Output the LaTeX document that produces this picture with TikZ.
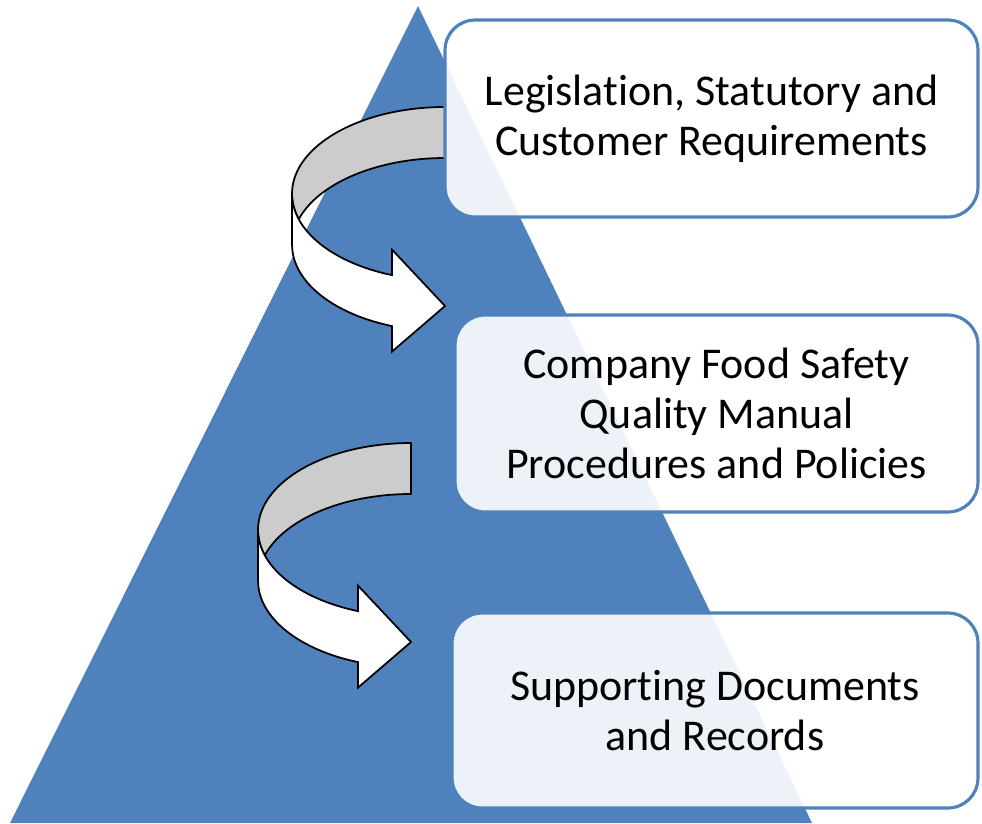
\documentclass[tikz,border=0pt]{standalone}
\usepackage{fontspec}
\setmainfont{Carlito}[Ligatures=NoCommon]
\usetikzlibrary{positioning}
\definecolor{pyramidblue}{HTML}{4F81BD}
\tikzstyle{tier} = [
  rectangle,
  rounded corners=0.6cm,
  minimum height=3.94cm,
  text centered,
  align=center,
  draw=pyramidblue,
  line width=1.8pt,
  fill=white,
  fill opacity=0.9,
  text opacity=1,
  inner sep=0,
  font=\fontsize{25}{28.5}\selectfont
]
\tikzstyle{backband} = [
  draw=black,
  line width=1pt,
  line join=round,
  fill=gray!40
]
\tikzstyle{frontband} = [
  draw=black,
  line width=1pt,
  line join=miter,
  fill=white
]
% u-turn arrow, #1 is its top left corner
\newcommand{\turnarrow}[1]{
  \begin{scope}[shift={(#1)}]
    \draw [backband] (0,86.75) arc[start angle=180, end angle=270, x radius=153, y radius=86.75]
      -- (153,51) arc[start angle=270, end angle=197.1, x radius=153, y radius=86.75]
      arc[start angle=162.9, end angle=180, x radius=153, y radius=86.75] -- cycle;
    \draw [frontband] (0,86.75) arc[start angle=180, end angle=110.3, x radius=153, y radius=86.75]
      -- (100,142.6) -- (153,199) -- (100,244.6) -- (100,219.1)
      arc[start angle=110.3, end angle=180, x radius=153, y radius=86.75] -- cycle;
  \end{scope}
}

\begin{document}
\begin{tikzpicture}[x=0.02cm, y=-0.02cm]
      \useasboundingbox (0,0) rectangle (982,823);

      \fill [pyramidblue] (418,6) -- (812,823) -- (10,823) -- cycle;

      \coordinate (turn one) at (292,107);
      \coordinate (turn two) at (258,443);
      \turnarrow{turn one}
      \turnarrow{turn two}

      \node [tier, minimum width=10.66cm] (requirements) at (711.5,118.5) {Legislation, Statutory and\\Customer Requirements};
      \node [tier, minimum width=10.46cm] (manual) at (716.5,413.5) {Company Food Safety\\Quality Manual\\Procedures and Policies};
      \node [tier, minimum width=10.52cm, minimum height=3.9cm] (records) at (715,710.5) {Supporting Documents\\and Records};

    \end{tikzpicture}
\end{document}
